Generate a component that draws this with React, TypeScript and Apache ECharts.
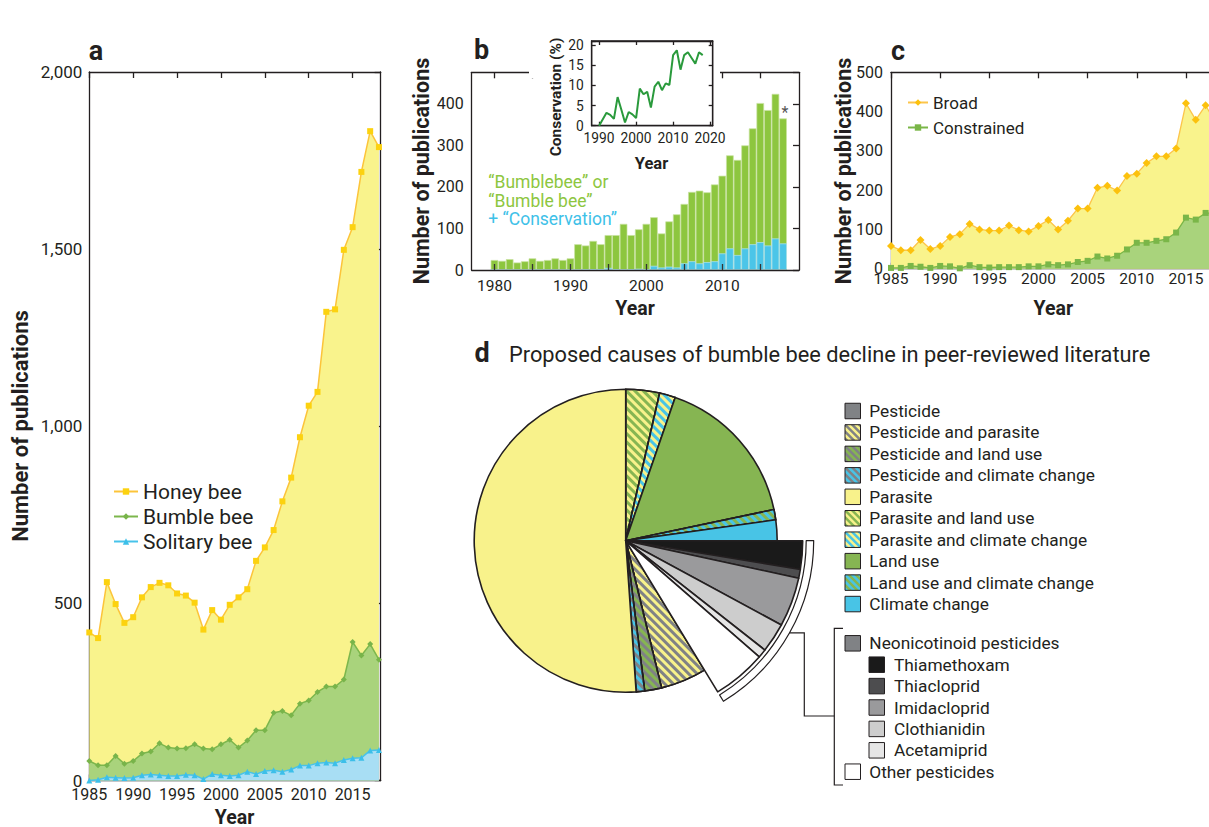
import React, { useEffect, useRef } from 'react';
import * as echarts from 'echarts';

const FONT = 'Roboto, "Noto Sans", "DejaVu Sans", sans-serif';
const INK = '#231f20';

// ---------- Panel a ----------
const yearsA = [1985, 1986, 1987, 1988, 1989, 1990, 1991, 1992, 1993, 1994, 1995, 1996, 1997, 1998, 1999, 2000, 2001, 2002, 2003, 2004, 2005, 2006, 2007, 2008, 2009, 2010, 2011, 2012, 2013, 2014, 2015, 2016, 2017, 2018];
const honeyBee = [418, 402, 560, 498, 445, 461, 517, 546, 558, 551, 528, 522, 502, 426, 481, 454, 496, 517, 540, 620, 658, 707, 788, 855, 969, 1058, 1097, 1323, 1330, 1498, 1562, 1718, 1833, 1788];
const bumbleBee = [55, 43, 43, 69, 47, 55, 76, 82, 105, 93, 90, 91, 102, 90, 88, 102, 115, 93, 113, 142, 142, 191, 196, 184, 217, 226, 250, 265, 265, 285, 391, 353, 385, 341];
const solitaryBee = [0, 2, 9, 8, 7, 8, 15, 17, 15, 13, 13, 16, 15, 4, 18, 15, 13, 15, 25, 18, 27, 29, 25, 31, 42, 42, 49, 51, 49, 58, 63, 64, 85, 86];
const ticksA = [1985, 1990, 1995, 2000, 2005, 2010, 2015];

// ---------- Panel b ----------
const yearsB = [1980, 1981, 1982, 1983, 1984, 1985, 1986, 1987, 1988, 1989, 1990, 1991, 1992, 1993, 1994, 1995, 1996, 1997, 1998, 1999, 2000, 2001, 2002, 2003, 2004, 2005, 2006, 2007, 2008, 2009, 2010, 2011, 2012, 2013, 2014, 2015, 2016, 2017, 2018];
const bumblebeePubs = [24, 22, 26, 18, 21, 28, 22, 24, 28, 24, 28, 62, 59, 70, 62, 84, 84, 111, 84, 98, 111, 127, 88, 117, 134, 159, 188, 191, 187, 206, 227, 276, 265, 300, 341, 402, 385, 424, 365];
const conservationPubs = [0, 0, 0, 0, 0, 0, 0, 0, 0, 0, 0, 0, 1, 2, 2, 5, 2, 1, 2, 3, 2, 10, 6, 8, 6, 16, 21, 16, 19, 21, 40, 52, 36, 52, 62, 67, 59, 76, 64];
const ticksB = [1980, 1985, 1990, 1995, 2000, 2005, 2010, 2015];
const labelsB = [1980, 1990, 2000, 2010];

// ---------- Inset ----------
const yearsInset = [1990, 1991, 1992, 1993, 1994, 1995, 1996, 1997, 1998, 1999, 2000, 2001, 2002, 2003, 2004, 2005, 2006, 2007, 2008, 2009, 2010, 2011, 2012, 2013, 2014, 2015, 2016, 2017, 2018];
const conservationPct = [0, 1.6, 3.2, 2.7, 1.7, 7.1, 4.0, 0.8, 3.4, 2.8, 1.9, 9.2, 7.8, 8.4, 4.5, 9.7, 10.9, 8.8, 10.5, 10.1, 17.5, 18.7, 13.9, 17.5, 18.2, 16.8, 15.4, 18.2, 17.5];
const ticksInset = [1990, 2000, 2010, 2020];

// ---------- Panel c ----------
const yearsC = yearsA;
const broad = [58, 47, 47, 73, 50, 58, 81, 88, 114, 100, 97, 97, 110, 98, 95, 109, 124, 100, 122, 153, 153, 206, 211, 199, 236, 242, 269, 286, 286, 306, 421, 379, 416, 372];
const constrained = [2, 2, 7, 5, 2, 7, 6, 1, 9, 4, 3, 4, 4, 4, 6, 6, 11, 9, 11, 17, 20, 31, 26, 33, 49, 66, 66, 71, 75, 92, 130, 125, 142, 140];

// ---------- Panel d ----------
const causes = ['Parasite and land use', 'Parasite and climate change', 'Land use', 'Land use and climate change', 'Climate change', 'Thiamethoxam', 'Thiacloprid', 'Imidacloprid', 'Clothianidin', 'Acetamiprid', 'Other pesticides', 'Pesticide and parasite', 'Pesticide and land use', 'Pesticide and climate change', 'Parasite'];
const causeShares = [3.6, 1.7, 16.4, 1.1, 2.2, 2.6, 0.8, 4.5, 2.7, 0.8, 4.9, 4.9, 1.8, 0.9, 51.1];
const pesticideGroup = ['Thiamethoxam', 'Thiacloprid', 'Imidacloprid', 'Clothianidin', 'Acetamiprid', 'Other pesticides'];
const legendMain = ['Pesticide', 'Pesticide and parasite', 'Pesticide and land use', 'Pesticide and climate change', 'Parasite', 'Parasite and land use', 'Parasite and climate change', 'Land use', 'Land use and climate change', 'Climate change'];
const legendNeonic = ['Neonicotinoid pesticides', 'Thiamethoxam', 'Thiacloprid', 'Imidacloprid', 'Clothianidin', 'Acetamiprid', 'Other pesticides'];

const GREY = '#808285';
const YELLOW = '#f8f28b';
const GREEN = '#86b552';
const BLUE = '#48c4e6';
const causeStyle: Record<string, { base: string; stripe?: string }> = {
  'Pesticide': { base: GREY },
  'Pesticide and parasite': { base: YELLOW, stripe: GREY },
  'Pesticide and land use': { base: GREEN, stripe: GREY },
  'Pesticide and climate change': { base: BLUE, stripe: GREY },
  'Parasite': { base: YELLOW },
  'Parasite and land use': { base: YELLOW, stripe: GREEN },
  'Parasite and climate change': { base: YELLOW, stripe: BLUE },
  'Land use': { base: GREEN },
  'Land use and climate change': { base: GREEN, stripe: BLUE },
  'Climate change': { base: BLUE },
  'Neonicotinoid pesticides': { base: GREY },
  'Thiamethoxam': { base: '#1a1a1a' },
  'Thiacloprid': { base: '#4d4d4f' },
  'Imidacloprid': { base: '#9a9a9c' },
  'Clothianidin': { base: '#cdcdcd' },
  'Acetamiprid': { base: '#e6e6e6' },
  'Other pesticides': { base: '#ffffff' },
};

const PIE_C = [625.7, 540.7];
const TRANSPARENT = { color: 'rgba(0,0,0,0)', borderWidth: 0 };

function sliceStyle(name: string, bw = 1.5) {
  const st = causeStyle[name];
  const s: any = { color: st.base, borderColor: INK, borderWidth: bw };
  if (st.stripe) {
    s.decal = {
      symbol: 'rect',
      symbolSize: 1,
      color: st.stripe,
      dashArrayX: [1, 0],
      dashArrayY: [2.6, 2.6],
      rotation: Math.PI / 4,
    };
  }
  return s;
}

function clip(poly: number[][], f: (p: number[]) => number) {
  const out: number[][] = [];
  for (let i = 0; i < poly.length; i++) {
    const a = poly[i];
    const b = poly[(i + 1) % poly.length];
    const fa = f(a);
    const fb = f(b);
    if (fa >= 0) out.push(a);
    if ((fa >= 0) !== (fb >= 0)) {
      const t = fa / (fa - fb);
      out.push([a[0] + (b[0] - a[0]) * t, a[1] + (b[1] - a[1]) * t]);
    }
  }
  return out;
}

function swatch(x: number, yc: number, name: string) {
  const s = 15.5;
  const y = yc - s / 2;
  const st = causeStyle[name];
  const els: any[] = [
    { type: 'rect', shape: { x, y, width: s, height: s }, style: { fill: st.base }, silent: true, z: 6 },
  ];
  if (st.stripe) {
    const period = 7;
    const sq = [[x, y], [x + s, y], [x + s, y + s], [x, y + s]];
    for (let c = -s - period; c < s + period; c += period) {
      let p = clip(sq, (q) => (q[0] - x) - (q[1] - y) - c);
      p = clip(p, (q) => c + period / 2 - ((q[0] - x) - (q[1] - y)));
      if (p.length >= 3) els.push({ type: 'polygon', shape: { points: p }, style: { fill: st.stripe }, silent: true, z: 6 });
    }
  }
  els.push({ type: 'rect', shape: { x, y, width: s, height: s }, style: { fill: 'none', stroke: INK, lineWidth: 1 }, silent: true, z: 7 });
  return els;
}

function txt(text: string, x: number, y: number, opts: any = {}) {
  const align = opts.align || 'center';
  return {
    type: 'text',
    x,
    y,
    rotation: opts.rotation || 0,
    z: 8,
    silent: true,
    style: {
      text,
      fill: opts.color || INK,
      fontFamily: FONT,
      fontSize: opts.size || 17,
      fontWeight: opts.weight || 'normal',
      align,
      verticalAlign: 'middle',
      textAlign: align,
      textVerticalAlign: 'middle',
    },
  };
}

function axisX(grid: number, min: number, max: number, ticks: number[], labels: number[] | null, opts: any = {}) {
  return {
    type: 'value',
    gridIndex: grid,
    min,
    max,
    position: opts.position || 'bottom',
    z: opts.z || 0,
    axisLine: { show: true, onZero: false, lineStyle: { color: INK, width: 1.3 } },
    splitLine: { show: false },
    axisTick: { show: true, inside: true, length: opts.tickLen || 6, customValues: ticks, lineStyle: { color: opts.tickColor || INK, width: 1.3 } },
    axisLabel: labels
      ? {
          show: true,
          customValues: labels,
          fontFamily: FONT,
          fontSize: opts.fontSize || 15.5,
          color: INK,
          margin: opts.margin ?? 6,
          formatter: (v: number) => String(v),
        }
      : { show: false },
  };
}

function axisY(grid: number, min: number, max: number, interval: number, opts: any = {}) {
  return {
    type: 'value',
    gridIndex: grid,
    min,
    max,
    interval,
    position: opts.position || 'left',
    z: opts.z || 0,
    axisLine: { show: true, onZero: false, lineStyle: { color: INK, width: 1.3 } },
    splitLine: { show: false },
    axisTick: { show: !!opts.ticks, inside: true, length: opts.tickLen || 6, lineStyle: { color: INK, width: 1.3 } },
    axisLabel: opts.labels
      ? {
          show: true,
          fontFamily: FONT,
          fontSize: opts.fontSize || 16,
          color: INK,
          margin: opts.margin ?? 8,
          formatter: (v: number) => (Math.abs(v % interval) < 1e-9 ? (opts.comma ? v.toLocaleString('en-US') : String(v)) : ''),
        }
      : { show: false },
  };
}

export default function App() {
  const ref = useRef<HTMLDivElement>(null);

  useEffect(() => {
    if (!ref.current) return;
    const chart = echarts.init(ref.current, undefined, { renderer: 'svg' });

    const pair = (xs: number[], ys: number[]) => xs.map((x, i) => [x, ys[i]]);

    const pieBase = causes.map((n, i) => ({
      name: n,
      value: causeShares[i],
      itemStyle: pesticideGroup.includes(n) ? TRANSPARENT : sliceStyle(n, 1.6),
    }));
    const pieExploded = causes.map((n, i) => ({
      name: n,
      value: causeShares[i],
      itemStyle: pesticideGroup.includes(n) ? sliceStyle(n, 1.6) : TRANSPARENT,
    }));
    const firstIdx = causes.indexOf(pesticideGroup[0]);
    const lastIdx = causes.indexOf(pesticideGroup[pesticideGroup.length - 1]);
    const sum = (a: number[]) => a.reduce((s, v) => s + v, 0);
    const before = sum(causeShares.slice(0, firstIdx));
    const group = sum(causeShares.slice(firstIdx, lastIdx + 1));
    const after = sum(causeShares.slice(lastIdx + 1));
    const total = before + group + after;
    const bandData = [
      { name: 'before', value: before, itemStyle: TRANSPARENT },
      { name: 'Pesticide', value: group, itemStyle: { color: '#fff', borderColor: INK, borderWidth: 1.2 } },
      { name: 'after', value: after, itemStyle: TRANSPARENT },
    ];
    const midAngle = ((before + group / 2) / total) * 2 * Math.PI;
    const bandOuter = 188;
    const connX = PIE_C[0] + bandOuter * Math.sin(midAngle);
    const connY = PIE_C[1] - bandOuter * Math.cos(midAngle);

    const graphics: any[] = [];
    // cover for panel b frame behind the inset
    graphics.push({ type: 'rect', shape: { x: 529, y: 64, width: 191, height: 14 }, style: { fill: '#fff' }, z: 3, silent: true });

    // panel letters
    graphics.push(txt('a', 96, 51, { size: 27, weight: 'bold' }));
    graphics.push(txt('b', 481.5, 50, { size: 27, weight: 'bold' }));
    graphics.push(txt('c', 898, 51, { size: 27, weight: 'bold' }));
    graphics.push(txt('d', 482, 353, { size: 27, weight: 'bold' }));

    // axis titles
    graphics.push(txt('Number of publications', 20, 426, { size: 22, weight: 'bold', rotation: Math.PI / 2 }));
    graphics.push(txt('Year', 234.5, 817, { size: 19.5, weight: 'bold' }));
    graphics.push(txt('Number of publications', 421.5, 171, { size: 21.5, weight: 'bold', rotation: Math.PI / 2 }));
    graphics.push(txt('Year', 635, 308.5, { size: 19.5, weight: 'bold' }));
    graphics.push(txt('Conservation (%)', 556, 97, { size: 15.5, weight: 'bold', rotation: Math.PI / 2 }));
    graphics.push(txt('Year', 651.5, 163, { size: 16.5, weight: 'bold' }));
    graphics.push(txt('Number of publications', 843.3, 171, { size: 21.5, weight: 'bold', rotation: Math.PI / 2 }));
    graphics.push(txt('Year', 1053.3, 308.5, { size: 19.5, weight: 'bold' }));

    // panel b annotations
    graphics.push(txt('\u201cBumblebee\u201d or', 488.3, 181.7, { size: 17.5, align: 'left', color: '#8dc63f' }));
    graphics.push(txt('\u201cBumble bee\u201d', 488.3, 200.7, { size: 17.5, align: 'left', color: '#8dc63f' }));
    graphics.push(txt('+ \u201cConservation\u201d', 488.3, 219, { size: 17.5, align: 'left', color: '#3ec1e8' }));
    graphics.push(txt('*', 785, 112, { size: 16, color: '#555' }));

    // title d
    graphics.push(txt('Proposed causes of bumble bee decline in peer-reviewed literature', 509, 354, { size: 21.8, align: 'left' }));

    // legend d
    legendMain.forEach((n, i) => {
      const yc = 411 + i * 21.45;
      graphics.push(...swatch(845, yc, n));
      graphics.push(txt(n, 869.3, yc, { size: 17.3, align: 'left' }));
    });
    legendNeonic.forEach((n, i) => {
      const yc = 643.3 + i * 21.4;
      const indent = i > 0 && i < legendNeonic.length - 1;
      const sx = indent ? 869 : 845;
      graphics.push(...swatch(sx, yc, n));
      graphics.push(txt(n, indent ? 894 : 869.3, yc, { size: 17.3, align: 'left' }));
    });

    // bracket and connector
    graphics.push({
      type: 'polyline',
      shape: { points: [[843, 628.3], [834.3, 628.3], [834.3, 785], [843, 785]] },
      style: { stroke: INK, lineWidth: 1.2, fill: 'none' },
      silent: true,
      z: 6,
    });
    graphics.push({
      type: 'polyline',
      shape: { points: [[connX, connY], [804.3, connY], [804.3, 716], [834.3, 716]] },
      style: { stroke: INK, lineWidth: 1.2, fill: 'none' },
      silent: true,
      z: 6,
    });

    const option: any = {
      animation: false,
      backgroundColor: '#ffffff',
      textStyle: { fontFamily: FONT },
      grid: [
        { left: 89.3, top: 72, width: 291.4, height: 708.5, containLabel: false, outerBoundsMode: 'none' },
        { left: 471.7, top: 72.3, width: 327.3, height: 197.7, containLabel: false, outerBoundsMode: 'none' },
        { left: 591.7, top: 41, width: 121, height: 84.7, containLabel: false, outerBoundsMode: 'none', show: true, backgroundColor: '#ffffff', borderColor: INK, borderWidth: 1.3, z: 4 },
        { left: 891, top: 72.3, width: 326.4, height: 196.4, containLabel: false, outerBoundsMode: 'none' },
      ],
      xAxis: [
        axisX(0, 1985, 2018.2, ticksA, ticksA, { margin: 6, fontSize: 16 }),
        axisX(0, 1985, 2018.2, ticksA, null, { position: 'top' }),
        axisX(1, 1977, 2020.1, ticksB, labelsB, { margin: 8, z: 10, tickColor: '#333' }),
        axisX(1, 1977, 2020.1, ticksB, null, { position: 'top' }),
        axisX(2, 1988, 2020.7, ticksInset, ticksInset, { margin: 5, fontSize: 13.8, tickLen: 4, z: 5 }),
        axisX(2, 1988, 2020.7, ticksInset, null, { position: 'top', tickLen: 4, z: 5 }),
        axisX(3, 1985, 2018.2, ticksA, ticksA, { margin: 2 }),
        axisX(3, 1985, 2018.2, ticksA, null, { position: 'top' }),
      ],
      yAxis: [
        axisY(0, 0, 2000, 500, { labels: true, comma: true, margin: 7, fontSize: 17 }),
        axisY(0, 0, 2000, 500, { position: 'right', ticks: true }),
        axisY(1, 0, 476, 100, { labels: true, margin: 8 }),
        axisY(1, 0, 476, 100, { position: 'right', ticks: true }),
        axisY(2, 0, 21, 5, { labels: true, margin: 8, fontSize: 13.8, ticks: true, tickLen: 4, z: 5 }),
        axisY(2, 0, 21, 5, { position: 'right', ticks: true, tickLen: 4, z: 5 }),
        axisY(3, 0, 500, 100, { labels: true, margin: 8 }),
      ],
      legend: [
        {
          data: ['Honey bee', 'Bumble bee', 'Solitary bee'],
          left: 113, top: 481, orient: 'vertical', itemWidth: 24, itemHeight: 8, itemGap: 4, padding: 0,
          selectedMode: false,
          textStyle: { fontFamily: FONT, fontSize: 21, color: INK },
        },
        {
          data: ['Broad', 'Constrained'],
          left: 907, top: 94, orient: 'vertical', itemWidth: 20, itemHeight: 8, itemGap: 8, padding: 0,
          selectedMode: false,
          textStyle: { fontFamily: FONT, fontSize: 17, color: INK },
        },
      ],
      series: [
        {
          type: 'line', name: 'Honey bee', xAxisIndex: 0, yAxisIndex: 0, silent: true,
          data: pair(yearsA, honeyBee), symbol: 'rect', symbolSize: 6,
          itemStyle: { color: '#fcd20f' }, lineStyle: { color: '#fcc43a', width: 1.5 },
          areaStyle: { color: '#f9f38c', opacity: 1 },
        },
        {
          type: 'line', name: 'Bumble bee', xAxisIndex: 0, yAxisIndex: 0, silent: true,
          data: pair(yearsA, bumbleBee), symbol: 'diamond', symbolSize: 6,
          itemStyle: { color: '#78b44a' }, lineStyle: { color: '#7cb64c', width: 1.5 },
          areaStyle: { color: '#a9d37c', opacity: 1 },
        },
        {
          type: 'line', name: 'Solitary bee', xAxisIndex: 0, yAxisIndex: 0, silent: true,
          data: pair(yearsA, solitaryBee), symbol: 'triangle', symbolSize: 6,
          itemStyle: { color: '#3cbfe9' }, lineStyle: { color: '#47c3ea', width: 1.5 },
          areaStyle: { color: '#a8def4', opacity: 1 },
        },
        {
          type: 'bar', name: 'Bumblebee', xAxisIndex: 2, yAxisIndex: 2, silent: true,
          data: pair(yearsB, bumblebeePubs), barWidth: 7.6, barGap: '-100%',
          itemStyle: { color: '#8dc63f', borderColor: '#c9e3a0', borderWidth: 0.7 },
        },
        {
          type: 'bar', name: 'Conservation', xAxisIndex: 2, yAxisIndex: 2, silent: true,
          data: pair(yearsB, conservationPubs), barWidth: 7.6, barGap: '-100%',
          itemStyle: { color: '#4bc5e8', borderColor: '#b0e4f4', borderWidth: 0.7 },
        },
        {
          type: 'line', name: 'Conservation %', xAxisIndex: 4, yAxisIndex: 4, silent: true, z: 6,
          data: pair(yearsInset, conservationPct), symbol: 'none',
          lineStyle: { color: '#2a9a3c', width: 2 },
        },
        {
          type: 'line', name: 'Broad', xAxisIndex: 6, yAxisIndex: 6, silent: true,
          data: pair(yearsC, broad), symbol: 'diamond', symbolSize: 8,
          itemStyle: { color: '#fcc10d' }, lineStyle: { color: '#fcc54b', width: 1.3 },
          areaStyle: { color: '#f9f38c', opacity: 1 },
        },
        {
          type: 'line', name: 'Constrained', xAxisIndex: 6, yAxisIndex: 6, silent: true,
          data: pair(yearsC, constrained), symbol: 'rect', symbolSize: 6,
          itemStyle: { color: '#7ab648' }, lineStyle: { color: '#7ab648', width: 1.3 },
          areaStyle: { color: '#a9d37c', opacity: 1 },
        },
        {
          type: 'pie', name: 'causes', silent: true, center: PIE_C, radius: [0, 151.5],
          startAngle: 90, clockwise: true, avoidLabelOverlap: false,
          label: { show: false }, labelLine: { show: false }, emphasis: { disabled: true },
          data: pieBase,
        },
        {
          type: 'pie', name: 'pesticides', silent: true, center: PIE_C, radius: [0, 177],
          startAngle: 90, clockwise: true, avoidLabelOverlap: false,
          label: { show: false }, labelLine: { show: false }, emphasis: { disabled: true },
          data: pieExploded,
        },
        {
          type: 'pie', name: 'band', silent: true, center: PIE_C, radius: [180.5, 188],
          startAngle: 90, clockwise: true, avoidLabelOverlap: false,
          label: { show: false }, labelLine: { show: false }, emphasis: { disabled: true },
          data: bandData,
        },
      ],
      graphic: { elements: graphics },
    };

    chart.setOption(option);
    return () => chart.dispose();
  }, []);

  return (
    <div
      ref={ref}
      style={{ position: 'fixed', left: 0, top: 0, width: 1209, height: 827, background: '#fff' }}
    />
  );
}
